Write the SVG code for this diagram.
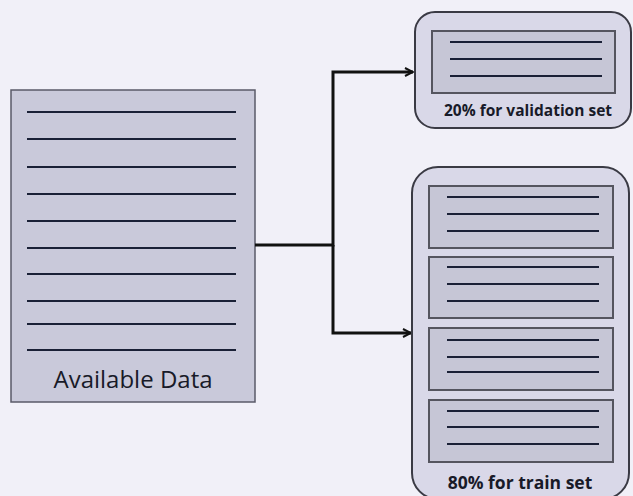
<svg xmlns="http://www.w3.org/2000/svg" width="633" height="496" viewBox="0 0 633 496">
  <defs>
    <marker id="arrow" viewBox="0 0 10 10" refX="9" refY="5" markerWidth="10" markerHeight="10" markerUnits="userSpaceOnUse" orient="auto">
      <path d="M1,1 L9,5 L1,9" fill="none" stroke="#111" stroke-width="2"/>
    </marker>
  </defs>
  <style>
    .bg { fill: #f1f0f8; }
    .data { fill: #c9c9da; stroke: #5a5a68; stroke-width: 1.5; }
    .outer { fill: #d9d8e8; stroke: #3a3a44; stroke-width: 2; }
    .inner { fill: #c6c6d6; stroke: #55555f; stroke-width: 2; }
    .row { stroke: #1a2036; stroke-width: 2.2; }
    .conn { fill: none; stroke: #111; stroke-width: 3; }
    .label { font-family: "Open Sans", "Liberation Sans", sans-serif; fill: #181a28; text-anchor: middle; }
    .bold { font-weight: bold; }
  </style>

  <rect class="bg" x="0" y="0" width="633" height="496"/>

  <!-- source data sheet -->
  <g id="available-data">
    <rect class="data" x="11" y="90" width="244" height="312"/>
    <g class="row">
      <line x1="27" y1="112" x2="236" y2="112"/>
      <line x1="27" y1="139" x2="236" y2="139"/>
      <line x1="27" y1="167" x2="236" y2="167"/>
      <line x1="27" y1="194" x2="236" y2="194"/>
      <line x1="27" y1="221" x2="236" y2="221"/>
      <line x1="27" y1="248" x2="236" y2="248"/>
      <line x1="27" y1="274" x2="236" y2="274"/>
      <line x1="27" y1="301" x2="236" y2="301"/>
      <line x1="27" y1="324" x2="236" y2="324"/>
      <line x1="27" y1="350" x2="236" y2="350"/>
    </g>
    <text class="label" x="133" y="388" font-size="24">Available Data</text>
  </g>

  <!-- split connectors -->
  <g id="connectors">
    <polyline class="conn" points="255,245 333,245 333,72 413,72" marker-end="url(#arrow)"/>
    <polyline class="conn" points="333,245 333,333 411,333" marker-end="url(#arrow)"/>
  </g>

  <!-- validation split -->
  <g id="validation-set">
    <rect class="outer" x="415" y="12" width="216" height="116" rx="20" ry="20"/>
    <rect class="inner" x="432" y="31" width="183" height="62"/>
    <g class="row">
      <line x1="450" y1="42" x2="602" y2="42"/>
      <line x1="450" y1="59" x2="602" y2="59"/>
      <line x1="450" y1="76" x2="602" y2="76"/>
    </g>
    <text class="label bold" x="528" y="116" font-size="15.5">20% for validation set</text>
  </g>

  <!-- training split -->
  <g id="train-set">
    <rect class="outer" x="412" y="167" width="217" height="332" rx="26" ry="26"/>
    <rect class="inner" x="429" y="186" width="184" height="62"/>
    <rect class="inner" x="429" y="257" width="184" height="61"/>
    <rect class="inner" x="429" y="328" width="184" height="62"/>
    <rect class="inner" x="429" y="400" width="184" height="62"/>
    <g class="row">
      <line x1="447" y1="197" x2="599" y2="197"/>
      <line x1="447" y1="214" x2="599" y2="214"/>
      <line x1="447" y1="231" x2="599" y2="231"/>
      <line x1="447" y1="267" x2="599" y2="267"/>
      <line x1="447" y1="284" x2="599" y2="284"/>
      <line x1="447" y1="301" x2="599" y2="301"/>
      <line x1="447" y1="340" x2="599" y2="340"/>
      <line x1="447" y1="357" x2="599" y2="357"/>
      <line x1="447" y1="372" x2="599" y2="372"/>
      <line x1="447" y1="411" x2="599" y2="411"/>
      <line x1="447" y1="427" x2="599" y2="427"/>
      <line x1="447" y1="444" x2="599" y2="444"/>
    </g>
    <text class="label bold" x="520" y="489" font-size="17.5">80% for train set</text>
  </g>
</svg>
